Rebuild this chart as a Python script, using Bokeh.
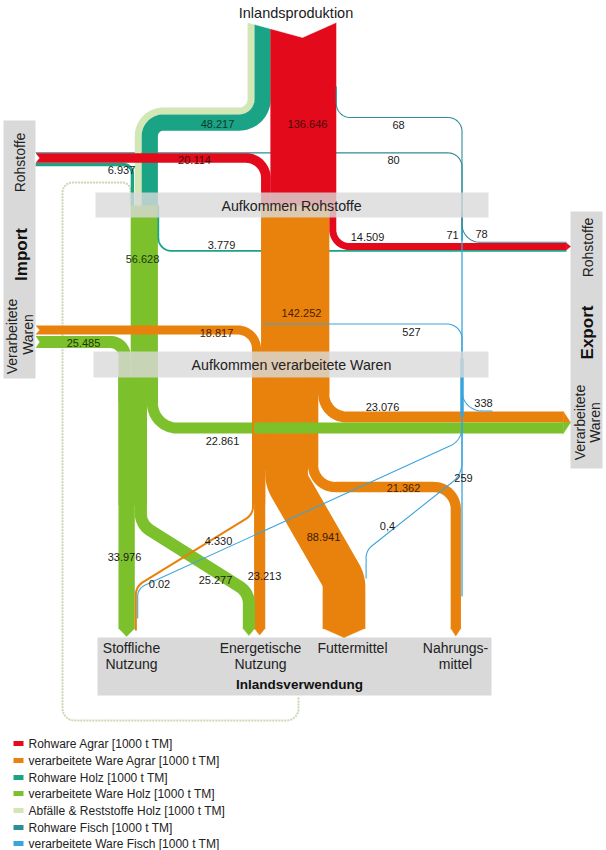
import numpy as np
from bokeh.plotting import figure
from bokeh.models import Range1d
from bokeh.embed import file_html
from bokeh.resources import INLINE
from bokeh.core.properties import value

# ---------------- DATA (values in 1000 t TM) ----------------
flow_ids = ["prod_agrar", "prod_holz", "imp_roh_agrar", "imp_roh_holz",
            "imp_vw_agrar", "imp_vw_holz", "exp_roh_agrar", "exp_roh_holz",
            "aufk_vw_agrar", "aufk_vw_holz", "exp_vw_agrar", "exp_vw_holz",
            "agrar_stofflich", "agrar_energetisch", "agrar_futter", "agrar_nahrung",
            "holz_stofflich", "holz_energetisch",
            "fisch_prod", "fisch_imp", "fisch_exp_roh", "fisch_roh", "fisch_imp_vw",
            "fisch_exp_vw", "fisch_nahrung", "fisch_futter", "fisch_stofflich"]
flow_values = [136646, 48217, 20114, 6937, 18817, 25485, 14509, 3779,
               142252, 56628, 23076, 22861, 4330, 23213, 88941, 21362,
               33976, 25277, 68, 80, 78, 71, 527, 338, 259, 0.4, 0.02]
flow_labels = ["136.646", "48.217", "20.114", "6.937", "18.817", "25.485", "14.509", "3.779",
               "142.252", "56.628", "23.076", "22.861", "4.330", "23.213", "88.941", "21.362",
               "33.976", "25.277", "68", "80", "78", "71", "527", "338", "259", "0,4", "0.02"]

series_names = ["Rohware Agrar [1000 t TM]", "verarbeitete Ware Agrar [1000 t TM]",
                "Rohware Holz [1000 t TM]", "verarbeitete Ware Holz [1000 t TM]",
                "Abfälle & Reststoffe Holz [1000 t TM]", "Rohware Fisch [1000 t TM]",
                "verarbeitete Ware Fisch [1000 t TM]"]
series_colors = ["#e30a1c", "#e8820c", "#1ba385", "#7cc12c", "#d2e6b6", "#2f8c99", "#3aa5dd"]

title_text = "Inlandsproduktion"
stage_top = "Aufkommen Rohstoffe"
stage_mid = "Aufkommen verarbeitete Waren"
stage_bottom = "Inlandsverwendung"
use_labels = [["Stoffliche", "Nutzung"], ["Energetische", "Nutzung"], ["Futtermittel"], ["Nahrungs-", "mittel"]]

val = dict(zip(flow_ids, flow_values))
lab = dict(zip(flow_ids, flow_labels))
RED, ORA, TEAL, GRN, LGRN, FROH, FVW = series_colors

# ---------------- LAYOUT ----------------
K = 0.00048          # px per 1000 t
S = 1.0              # screen px per data unit
abfall_share = 0.3   # share of the light-green strip in the wood band

def W(fid):
    return max(val[fid] * K, 1.2)

p = figure(width=606, height=850, x_range=Range1d(0, 606), y_range=Range1d(850, 0),
           output_backend="svg", toolbar_location=None, min_border=0,
           x_axis_type=None, y_axis_type=None)
p.xgrid.visible = False
p.ygrid.visible = False
p.outline_line_color = None
p.background_fill_color = "white"


def rpath(pts, radii, n=18):
    pts = [np.array(q, float) for q in pts]
    xs, ys = [pts[0][0]], [pts[0][1]]
    for i in range(1, len(pts) - 1):
        A, P, B = pts[i - 1], pts[i], pts[i + 1]
        r = radii[i - 1]
        u1 = (A - P) / np.linalg.norm(A - P)
        u2 = (B - P) / np.linalg.norm(B - P)
        th = np.arccos(np.clip(np.dot(u1, u2), -1, 1))
        if r <= 0 or th > np.pi - 1e-6:
            xs.append(P[0]); ys.append(P[1]); continue
        t = r / np.tan(th / 2)
        Sp = P + u1 * t
        Ep = P + u2 * t
        bis = (u1 + u2) / np.linalg.norm(u1 + u2)
        C = P + bis * (r / np.sin(th / 2))
        a0 = np.arctan2(Sp[1] - C[1], Sp[0] - C[0])
        a1 = np.arctan2(Ep[1] - C[1], Ep[0] - C[0])
        d = (a1 - a0 + np.pi) % (2 * np.pi) - np.pi
        for k in range(n + 1):
            a = a0 + d * k / n
            xs.append(C[0] + r * np.cos(a)); ys.append(C[1] + r * np.sin(a))
    xs.append(pts[-1][0]); ys.append(pts[-1][1])
    return xs, ys


def band(pts, radii, width, color, alpha=1.0, dash="solid", cap="butt"):
    xs, ys = rpath(pts, radii)
    p.line(xs, ys, line_width=width * S, line_color=color, line_alpha=alpha,
           line_cap=cap, line_join="round", line_dash=dash)


def box(l, r, t, b, color, alpha=1.0):
    p.quad(left=[l], right=[r], top=[t], bottom=[b], fill_color=color,
           fill_alpha=alpha, line_color=None)


def tri(xs, ys, color):
    p.patch(xs, ys, fill_color=color, line_color=color, line_width=0.5)


FONT = value("Liberation Sans")


def txt(x, y, s, size, color="#1a1a1a", bold=False, angle=0.0, align="center"):
    p.text(x=[x], y=[y], text=[s], text_font=FONT, text_font_size=f"{size * S:.1f}px",
           text_color=color, text_align=align, text_baseline="middle", angle=angle,
           text_font_style="bold" if bold else "normal")


# --- key x positions derived from widths
x_red_l = 270.2
red_w = W("prod_agrar")
x_red_r = x_red_l + red_w
ri_w = W("imp_roh_agrar")
x_ri_c = x_red_l - ri_w / 2
x_or_l = x_red_l - ri_w
x_or_r = x_or_l + W("aufk_vw_agrar")
x_rex_c = x_red_r - W("exp_roh_agrar") / 2
oi_w = W("imp_vw_agrar")
x_oi_l = x_or_l - oi_w

x_g_r = 157.4
x_g_l = x_g_r - W("aufk_vw_holz")
gi_w = W("imp_vw_holz")
x_gi_l = x_g_l - gi_w

# orange sub-flows, left to right
o_order = ["agrar_stofflich", "agrar_energetisch", "agrar_futter", "agrar_nahrung", "exp_vw_agrar"]
o_x = {}
cx = x_oi_l
for f in o_order:
    o_x[f] = (cx, cx + W(f)); cx += W(f)
g_order = ["holz_stofflich", "holz_energetisch", "exp_vw_holz"]
g_x = {}
cx = x_gi_l
for f in g_order:
    g_x[f] = (cx, cx + W(f)); cx += W(f)
oc = {f: sum(o_x[f]) / 2 for f in o_order}
gc = {f: sum(g_x[f]) / 2 for f in g_order}

# ---------------- DRAW ----------------
# dotted waste loop
band([(298, 697), (298, 720), (62, 720), (62, 182), (130, 182), (130, 200)],
     [12, 12, 10, 8], 2.0, "#c9d8b2", dash="2 1")

# raw fish import line (under red import)
band([(35, 152.4), (461.5, 152.4), (461.5, 240)], [14], 1.1, FROH)

# wood band (abfall + rohware holz)
hw = W("prod_holz")
lw = hw * abfall_share
tw = hw - lw
off_l = hw / 2 - lw / 2
off_t = hw / 2 - tw / 2
rc1, rc2 = 20, 17
yh0 = 107
band([(x_red_l - hw + lw / 2, 15), (x_red_l - hw + lw / 2, yh0 + lw / 2),
      (x_g_r - hw + lw / 2, yh0 + lw / 2), (x_g_r - hw + lw / 2, 206)],
     [rc1 - off_l, rc2 + off_l], lw, LGRN)
band([(x_red_l - tw / 2, 15), (x_red_l - tw / 2, yh0 + lw + tw / 2),
      (x_g_r - tw / 2, yh0 + lw + tw / 2), (x_g_r - tw / 2, 206)],
     [rc1 + off_t, rc2 - off_t], tw, TEAL)

# raw wood import
band([(35, 164.0), (x_g_l + W("imp_roh_holz") / 2, 164.0), (x_g_l + W("imp_roh_holz") / 2, 206)],
     [9], W("imp_roh_holz"), TEAL)

# red import + red trunk
band([(35, 157.5), (x_ri_c, 157.5), (x_ri_c, 206)], [20], ri_w, RED)
box(x_red_l - 0.3, x_red_r, 15, 206, RED)

# green column + green import
box(x_g_l, x_g_r, 205, 380, GRN)
band([(35, 341.5), (x_g_l - gi_w / 2, 341.5), (x_g_l - gi_w / 2, 380)], [14], gi_w, GRN)

# raw wood export line
band([(x_g_r + 0.4, 205), (x_g_r + 0.4, 250.3), (566, 250.3)], [13], W("exp_roh_holz"), TEAL)

# orange trunk and import
box(x_or_l, x_or_r, 205, 394, ORA)
band([(35, 329.5), (x_oi_l + oi_w / 2, 329.5), (x_oi_l + oi_w / 2, 380)], [19], oi_w, ORA)
box(x_oi_l, o_x["agrar_nahrung"][1], 376, 464, ORA)
box(x_oi_l, o_x["agrar_futter"][1], 376, 470, ORA)
box(x_oi_l, o_x["agrar_energetisch"][1], 376, 503, ORA)

band([(oc["agrar_energetisch"], 376), (oc["agrar_energetisch"], 628)], [], W("agrar_energetisch"), ORA)
band([(oc["agrar_futter"], 376), (oc["agrar_futter"], 480), (343.5, 580), (343.5, 628)],
     [25, 25], W("agrar_futter"), ORA)
band([(oc["agrar_nahrung"], 376), (oc["agrar_nahrung"], 486.5), (455.3, 486.5), (455.3, 628)],
     [22, 22], W("agrar_nahrung"), ORA)
band([(oc["exp_vw_agrar"], 376), (oc["exp_vw_agrar"], 416.5), (563, 416.5)],
     [23], W("exp_vw_agrar"), ORA)

# red export
band([(x_rex_c, 200), (x_rex_c, 246), (566, 246)], [16.5], W("exp_roh_agrar"), RED)

# green sub-flows
box(x_gi_l, x_g_r, 376, 402, GRN)
box(x_gi_l, g_x["holz_energetisch"][1], 376, 505, GRN)
band([(gc["holz_stofflich"], 376), (gc["holz_stofflich"], 628)], [], W("holz_stofflich"), GRN)
band([(gc["holz_energetisch"], 376), (gc["holz_energetisch"], 524), (248.4, 592), (248.4, 628)],
     [20, 20], W("holz_energetisch"), GRN)
band([(gc["exp_vw_holz"], 376), (gc["exp_vw_holz"], 427.6), (563, 427.6)],
     [25], W("exp_vw_holz"), GRN)

# orange to stoffliche Nutzung (over green)
xs_end = g_x["holz_stofflich"][1] + W("agrar_stofflich") / 2
band([(oc["agrar_stofflich"], 376), (oc["agrar_stofflich"], 514), (xs_end, 586), (xs_end, 630)],
     [15, 15], W("agrar_stofflich"), ORA)

# fish lines
band([(x_red_r, 86), (x_red_r, 117), (461.5, 117), (461.5, 240)], [14, 14], 1.1, FROH)
band([(461.5, 212), (461.5, 241.8), (566, 241.8)], [18], 1.1, FROH)
band([(461.5, 230), (461.5, 596)], [], 1.3, FVW)
band([(461.5, 358), (461.5, 416)], [], 3.5, FVW)
band([(262, 323.5), (461.5, 323.5), (461.5, 362)], [15], 1.1, FVW)
band([(461.5, 380), (461.5, 410.5), (492, 410.5)], [20], 1.1, FVW)
band([(461.5, 420), (461.5, 440), (137.2, 588), (137.2, 618)], [20, 12], 1.1, FVW)
band([(461.5, 430), (461.5, 474), (365.6, 550), (365.6, 578)], [25, 15], 1.1, FVW)

# stage boxes
GRAY = "#d9d9d9"
box(95, 488, 192, 217, GRAY, 0.8)
box(93, 488, 351, 377, GRAY, 0.8)
box(3, 35, 120, 378, GRAY)
box(570, 602, 211, 468, GRAY)
box(97, 491, 637, 695, GRAY)

# arrow tips (bottom)
def down_tip(l, r, y0, d, color):
    tri([l, (l + r) / 2, r], [y0, y0 + d, y0], color)

down_tip(g_x["holz_stofflich"][0], g_x["holz_stofflich"][1], 627.6, 8.5, GRN)
gw2 = W("holz_energetisch") / 2
down_tip(248.4 - gw2, 248.4 + gw2, 627.6, 7.5, GRN)
down_tip(o_x["agrar_energetisch"][0], o_x["agrar_energetisch"][1], 627.6, 7, ORA)
fw2 = W("agrar_futter") / 2
down_tip(343.5 - fw2, 343.5 + fw2, 627.6, 9.5, ORA)
nw2 = W("agrar_nahrung") / 2
down_tip(455.3 - nw2, 455.3 + nw2, 627.6, 8, ORA)

# export tips
ew = W("exp_roh_agrar") / 2
tri([565.8, 570, 565.8], [246 - ew, 246, 246 + ew], RED)
oy0 = 416.5 - W("exp_vw_agrar") / 2
gy1 = 427.6 + W("exp_vw_holz") / 2
ymid = (416.5 + W("exp_vw_agrar") / 2 + 427.6 - W("exp_vw_holz") / 2) / 2
tri([562.8, 570, 562.8], [oy0, ymid, ymid], ORA)
tri([562.8, 570, 562.8], [ymid, ymid, gy1], GRN)

# import notches
for yc, ww in [(157.5, ri_w), (329.5, oi_w), (341.5, gi_w)]:
    tri([34.6, 38.8, 34.6], [yc - ww / 2 - 0.3, yc, yc + ww / 2 + 0.3], "white")

# top notch (incoming arrow shape)
p.patch([236, 236, x_red_l - hw, 302, 338, 346, 346], [3, 22, 22, 37, 21, 21, 3],
        fill_color="white", line_color="white", line_width=0.5)

# ---------------- TEXT ----------------
txt(295.5, 12, title_text, 14.5)
txt(291, 205, stage_top, 14.2, "#222222")
txt(291, 364, stage_mid, 14.2, "#222222")
txt(299, 684, stage_bottom, 13.5, "#111111", bold=True)

use_x = [131, 260, 352, 455]
for xx, lines in zip(use_x, use_labels):
    for j, s in enumerate(lines):
        txt(xx, 647 + 16 * j, s, 14, "#222222")

ROT = np.pi / 2
txt(19, 162, "Rohstoffe", 14, "#222222", angle=ROT)
txt(21, 254, "Import", 17, "#111111", bold=True, angle=ROT)
txt(11.5, 336, "Verarbeitete", 14, "#222222", angle=ROT)
txt(27, 334, "Waren", 14, "#222222", angle=ROT)
txt(587, 247, "Rohstoffe", 14, "#222222", angle=ROT)
txt(587, 332, "Export", 17, "#111111", bold=True, angle=ROT)
txt(579, 422, "Verarbeitete", 14, "#222222", angle=ROT)
txt(594, 422, "Waren", 14, "#222222", angle=ROT)

label_pos = {
    "prod_agrar": (307, 123, "#4a0808"), "prod_holz": (217, 123, "#0c3a2c"),
    "imp_roh_agrar": (194, 159, "#4a0808"), "imp_roh_holz": (121, 169, "#1a1a1a"),
    "imp_vw_agrar": (216, 332, "#4a1e00"), "imp_vw_holz": (83, 342, "#1c3608"),
    "exp_roh_agrar": (367, 236, "#1a1a1a"), "exp_roh_holz": (221, 244, "#1a1a1a"),
    "aufk_vw_agrar": (301, 312, "#4a1e00"), "aufk_vw_holz": (142, 258, "#1c3608"),
    "exp_vw_agrar": (382, 406, "#1a1a1a"), "exp_vw_holz": (222, 440, "#1a1a1a"),
    "agrar_stofflich": (218, 540, "#1a1a1a"), "agrar_energetisch": (264, 575, "#1a1a1a"),
    "agrar_futter": (323, 536, "#3a1800"), "agrar_nahrung": (403, 487, "#4a1e00"),
    "holz_stofflich": (124, 556, "#1a1a1a"), "holz_energetisch": (215, 579, "#1a1a1a"),
    "fisch_prod": (398, 124, "#1a1a1a"), "fisch_imp": (393, 159, "#1a1a1a"),
    "fisch_exp_roh": (481, 233, "#1a1a1a"), "fisch_roh": (452, 234, "#1a1a1a"),
    "fisch_imp_vw": (411, 331, "#1a1a1a"), "fisch_exp_vw": (483, 402, "#1a1a1a"),
    "fisch_nahrung": (463, 477, "#1a1a1a"), "fisch_futter": (387, 525, "#1a1a1a"),
    "fisch_stofflich": (159, 583, "#1a1a1a"),
}
for fid in flow_ids:
    x, y, c = label_pos[fid]
    txt(x, y, lab[fid], 11, c)

# legend
leg_y = [743, 760, 777, 793, 810, 827, 843]
for yy, name, col in zip(leg_y, series_names, series_colors):
    p.quad(left=[13], right=[23], top=[yy - 2.6], bottom=[yy + 2.6], fill_color=col, line_color=None)
    txt(28, yy, name, 12, "#222222", align="left")

open("out.html", "w").write(file_html(p, INLINE))
